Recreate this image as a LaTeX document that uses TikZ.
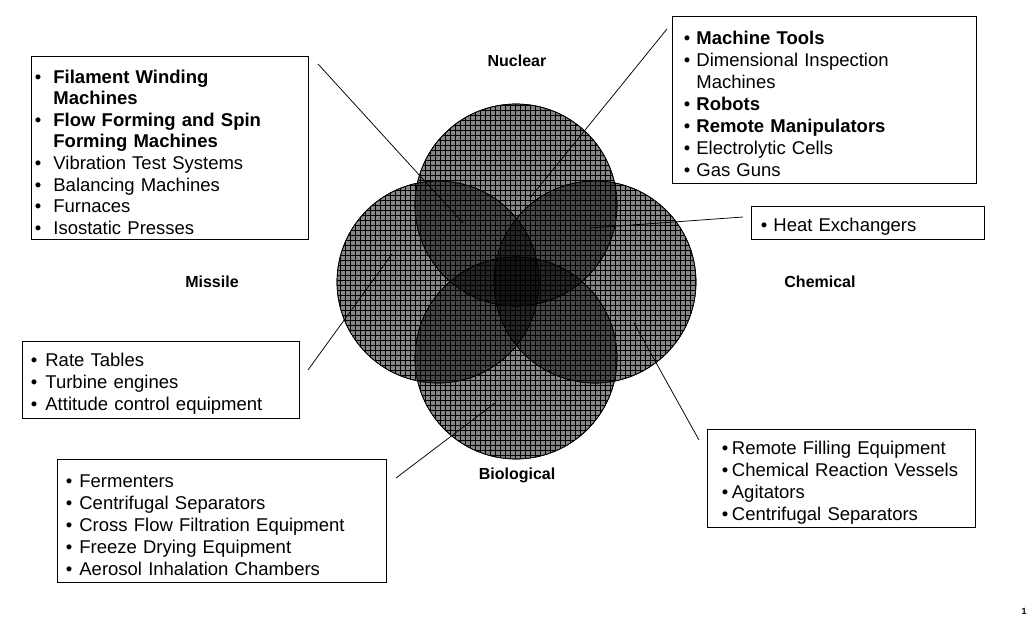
\documentclass[tikz,border=0pt]{standalone}
\usepackage{fontspec}
\setmainfont{Liberation Sans}
\newlength\bw
\newcommand\itm[1]{\par\hangindent=\bw\hangafter=1\noindent\makebox[\bw][l]{•}{#1}}
\begin{document}
\begin{tikzpicture}[x=1pt,y=-1pt,
  box/.style={draw, line width=0.8pt, anchor=north west, align=left, inner ysep=0pt,
    font=\fontsize{18.5}{22}\selectfont},
  lab/.style={font=\fontsize{16}{18}\selectfont\bfseries},
  conn/.style={line width=0.75pt},
  venn/.style={circle, minimum size=202pt, inner sep=0pt, fill=black, fill opacity=0.47, draw=black, line width=0.7pt},
  gridl/.style={line width=0.5pt, black}]
\useasboundingbox (0,0) rectangle (1029,618);

% circles
\node[venn] (N) at (516,205) {};
\node[venn] (M) at (438,282) {};
\node[venn] (C) at (595,282) {};
\node[venn] (B) at (516,358) {};
\foreach \cx/\cy in {516/205, 438/282, 595/282, 516/358}{
  \begin{scope}
    \clip (\cx,\cy) circle (101pt);
    \draw[gridl, step=5pt] (\cx-105,\cy-105) grid (\cx+105,\cy+105);
  \end{scope}
}
\foreach \n in {N,M,C,B}{\draw[line width=0.7pt] (\n) circle (101pt);}

% labels
\node[lab] (lN) at (517,61) {Nuclear};
\node[lab] (lM) at (212,282) {Missile};
\node[lab] (lC) at (820,282) {Chemical};
\node[lab] (lB) at (517,475) {Biological};
\node[font=\fontsize{9}{10}\selectfont\bfseries] (pg) at (1024,611) {1};

% boxes
\node[box, minimum width=277pt, minimum height=183pt, inner xsep=3.5pt, text width=270pt,
  font=\fontsize{18.5}{21.6}\selectfont] (b1) at (31,56) {\setlength\parskip{0pt}\setlength\bw{18.5pt}%
  \itm{\bfseries Filament Winding\break Machines}
  \itm{\bfseries Flow Forming and Spin\break Forming Machines}
  \itm{Vibration Test Systems}
  \itm{Balancing Machines}
  \itm{Furnaces}
  \itm{Isostatic Presses}\par\vspace*{9pt}};

\node[box, minimum width=304pt, minimum height=167pt, inner xsep=11.5pt, text width=281pt] (b2) at (672,16) {\setlength\parskip{0pt}\setlength\bw{12.5pt}%
  \itm{\bfseries Machine Tools}
  \itm{Dimensional Inspection\break Machines}
  \itm{\bfseries Robots}
  \itm{\bfseries Remote Manipulators}
  \itm{Electrolytic Cells}
  \itm{Gas Guns}};

\node[box, minimum width=233pt, minimum height=33pt, inner xsep=9.5pt, text width=214pt] (b3) at (751,206) {\setlength\parskip{0pt}\setlength\bw{12.5pt}%
  \itm{Heat Exchangers}};

\node[box, minimum width=277pt, minimum height=77pt, inner xsep=8.5pt, text width=260pt] (b4) at (22,341) {\setlength\parskip{0pt}\setlength\bw{14.5pt}%
  \itm{Rate Tables}
  \itm{Turbine engines}
  \itm{Attitude control equipment}};

\node[box, minimum width=329pt, minimum height=123pt, inner xsep=8.5pt, text width=312pt] (b5) at (57,459) {\setlength\parskip{0pt}\setlength\bw{13.5pt}%
  \itm{Fermenters}
  \itm{Centrifugal Separators}
  \itm{Cross Flow Filtration Equipment}
  \itm{Freeze Drying Equipment}
  \itm{Aerosol Inhalation Chambers}};

\node[box, minimum width=268pt, minimum height=98pt, inner xsep=14.2pt, text width=239pt] (b6) at (707,429) {\setlength\parskip{0pt}\setlength\bw{10pt}%
  \itm{Remote Filling Equipment}
  \itm{Chemical Reaction Vessels}
  \itm{Agitators}
  \itm{Centrifugal Separators}\par\vspace*{11pt}};

% connector ends
\coordinate (c1a) at (318,64);  \coordinate (c1b) at (463,223);
\coordinate (c2a) at (667,29);  \coordinate (c2b) at (530,198);
\coordinate (c3a) at (743,217); \coordinate (c3b) at (590,228);
\coordinate (c4a) at (308,370); \coordinate (c4b) at (392,254);
\coordinate (c5a) at (396,478); \coordinate (c5b) at (495,403);
\coordinate (c6a) at (699,440); \coordinate (c6b) at (634,323);
\draw[conn] (c1a) -- (c1b);
\draw[conn] (c2a) -- (c2b);
\draw[conn] (c3a) -- (c3b);
\draw[conn] (c4a) -- (c4b);
\draw[conn] (c5a) -- (c5b);
\draw[conn] (c6a) -- (c6b);
\end{tikzpicture}
\end{document}
